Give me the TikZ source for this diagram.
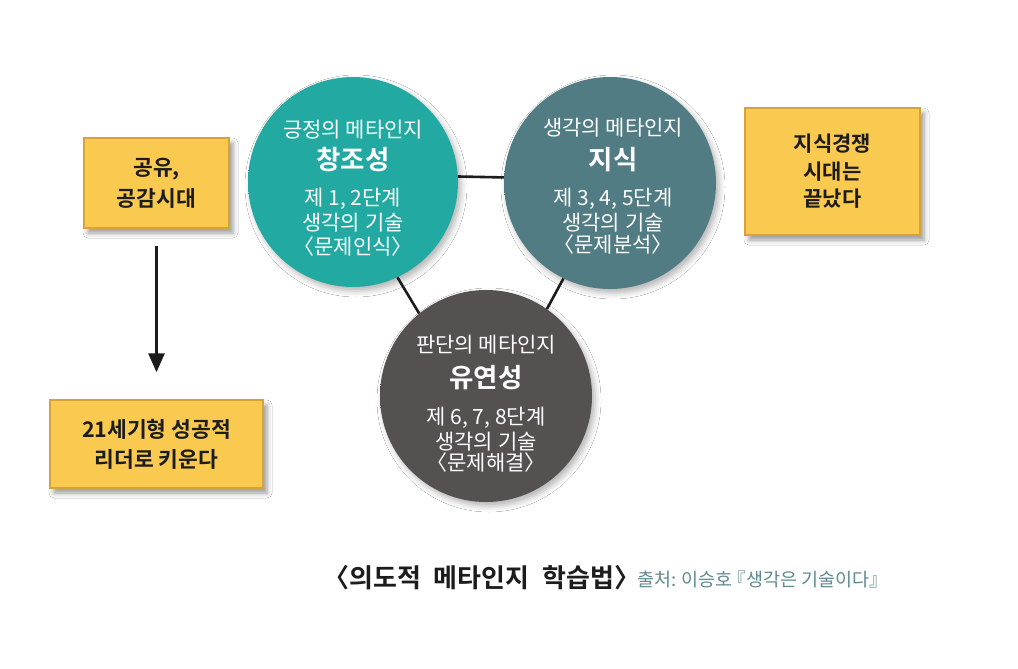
\documentclass[tikz,border=0pt]{standalone}
\usepackage{fontspec}
\setmainfont{Noto Sans CJK KR}[BoldFont={Noto Sans CJK KR Bold}]
\usetikzlibrary{arrows.meta,shadows.blur}
\newcommand\hb[1]{{\addfontfeature{RawFeature=+halt}#1}}
\definecolor{tealA}{HTML}{22AAA2}
\definecolor{tealB}{HTML}{14807A}
\definecolor{blueA}{HTML}{517C83}
\definecolor{blueB}{HTML}{3A5E64}
\definecolor{darkA}{HTML}{555151}
\definecolor{darkB}{HTML}{3C3939}
\definecolor{boxY}{HTML}{FAC94F}
\definecolor{boxE}{HTML}{D6A23A}
\definecolor{inkC}{HTML}{1C1C1C}
\definecolor{srcC}{HTML}{5E8990}
\pgfdeclareradialshading{tealrim}{\pgfpoint{0bp}{0bp}}{color(0bp)=(tealA); color(40bp)=(tealA); color(50bp)=(tealB)}
\pgfdeclareradialshading{bluerim}{\pgfpoint{0bp}{0bp}}{color(0bp)=(blueA); color(40bp)=(blueA); color(50bp)=(blueB)}
\pgfdeclareradialshading{darkrim}{\pgfpoint{0bp}{0bp}}{color(0bp)=(darkA); color(40bp)=(darkA); color(50bp)=(darkB)}
\begin{document}
\begin{tikzpicture}[x=1pt,y=-1pt,
  ball/.style={circle, inner sep=0pt, minimum size=#1,
    blur shadow={shadow xshift=3pt, shadow yshift=-4pt, shadow blur radius=6pt, shadow opacity=30}},
  cline/.style={anchor=base, inner sep=0pt, text=white, font=\fontsize{21}{24}\selectfont},
  ctitle/.style={anchor=base, inner sep=0pt, text=white, font=\bfseries\fontsize{26.5}{30}\selectfont},
  ybox/.style={rectangle, fill=boxY, draw=boxE, line width=1.5pt, inner sep=0pt,
    align=center, text=inkC,
    blur shadow={shadow xshift=4pt, shadow yshift=-5pt, shadow blur radius=5pt, shadow opacity=40}},
  link/.style={draw=inkC, line width=2.6pt},
  flow/.style={draw=inkC, line width=3pt, -{Triangle[length=19pt,width=16pt]}}
]
\fill[white] (0,0) rectangle (1018,669);
\useasboundingbox (0,0) rectangle (1018,669);

% circles
\node[ball=210pt, shading=tealrim] (c1) at (353,182) {};
\node[ball=212pt, shading=bluerim] (c2) at (610,183) {};
\node[ball=212pt, shading=darkrim] (c3) at (486,396) {};

% connectors
\draw[link] (c1.3) -- (c2.177);
\draw[link] (c1.-65) -- (c3.129);
\draw[link] (c2.-116) -- (c3.55);

% teal circle text
\node[cline]  (t1a) at (353,137.6) {긍정의 메타인지};
\node[ctitle] (t1b) at (353,169.6) {창조성};
\node[cline]  (t1c) at (353,205.6) {제 1, 2단계};
\node[cline]  (t1d) at (353,230.6) {생각의 기술};
\node[cline]  (t1e) at (353,254.6) {\hb{〈}문제인식\hb{〉}};

% blue circle text
\node[cline]  (t2a) at (613,135.6) {생각의 메타인지};
\node[ctitle] (t2b) at (613,169.6) {지식};
\node[cline]  (t2c) at (613,205.6) {제 3, 4, 5단계};
\node[cline]  (t2d) at (613,230.6) {생각의 기술};
\node[cline]  (t2e) at (613,252.6) {\hb{〈}문제분석\hb{〉}};

% dark circle text
\node[cline]  (t3a) at (486,352.6) {판단의 메타인지};
\node[ctitle] (t3b) at (486,387.6) {유연성};
\node[cline]  (t3c) at (486,424.6) {제 6, 7, 8단계};
\node[cline]  (t3d) at (486,449.6) {생각의 기술};
\node[cline]  (t3e) at (486,470.6) {\hb{〈}문제해결\hb{〉}};

% yellow boxes
\node[ybox, minimum width=145pt, minimum height=90pt, font=\bfseries\fontsize{21.5}{31}\selectfont] (b1) at (156.5,183) {공유,\\공감시대};
\node[ybox, minimum width=213pt, minimum height=88pt, font=\bfseries\fontsize{21.5}{30}\selectfont] (b2) at (156.5,444) {21세기형 성공적\\리더로 키운다};
\node[ybox, minimum width=175pt, minimum height=127pt, font=\bfseries\fontsize{21}{27.5}\selectfont] (b3) at (832.5,171.5) {지식경쟁\\시대는\\끝났다};

\draw[flow, shorten <=17pt, shorten >=27pt] (b1.south) -- (b2.north);

% caption
\node[anchor=base west, inner sep=0pt, text=inkC, font=\bfseries\fontsize{26}{30}\selectfont] (title) at (336,587) {\hb{〈}의도적\hspace{7pt} 메타인지\hspace{7pt} 학습법\hb{〉}};
\node[anchor=base west, inner sep=0pt, text=srcC, font=\fontsize{18.5}{22}\selectfont] (src) at (637,586) {출처: 이승호 \hb{『}생각은 기술이다\hb{』}};
\end{tikzpicture}
\end{document}
